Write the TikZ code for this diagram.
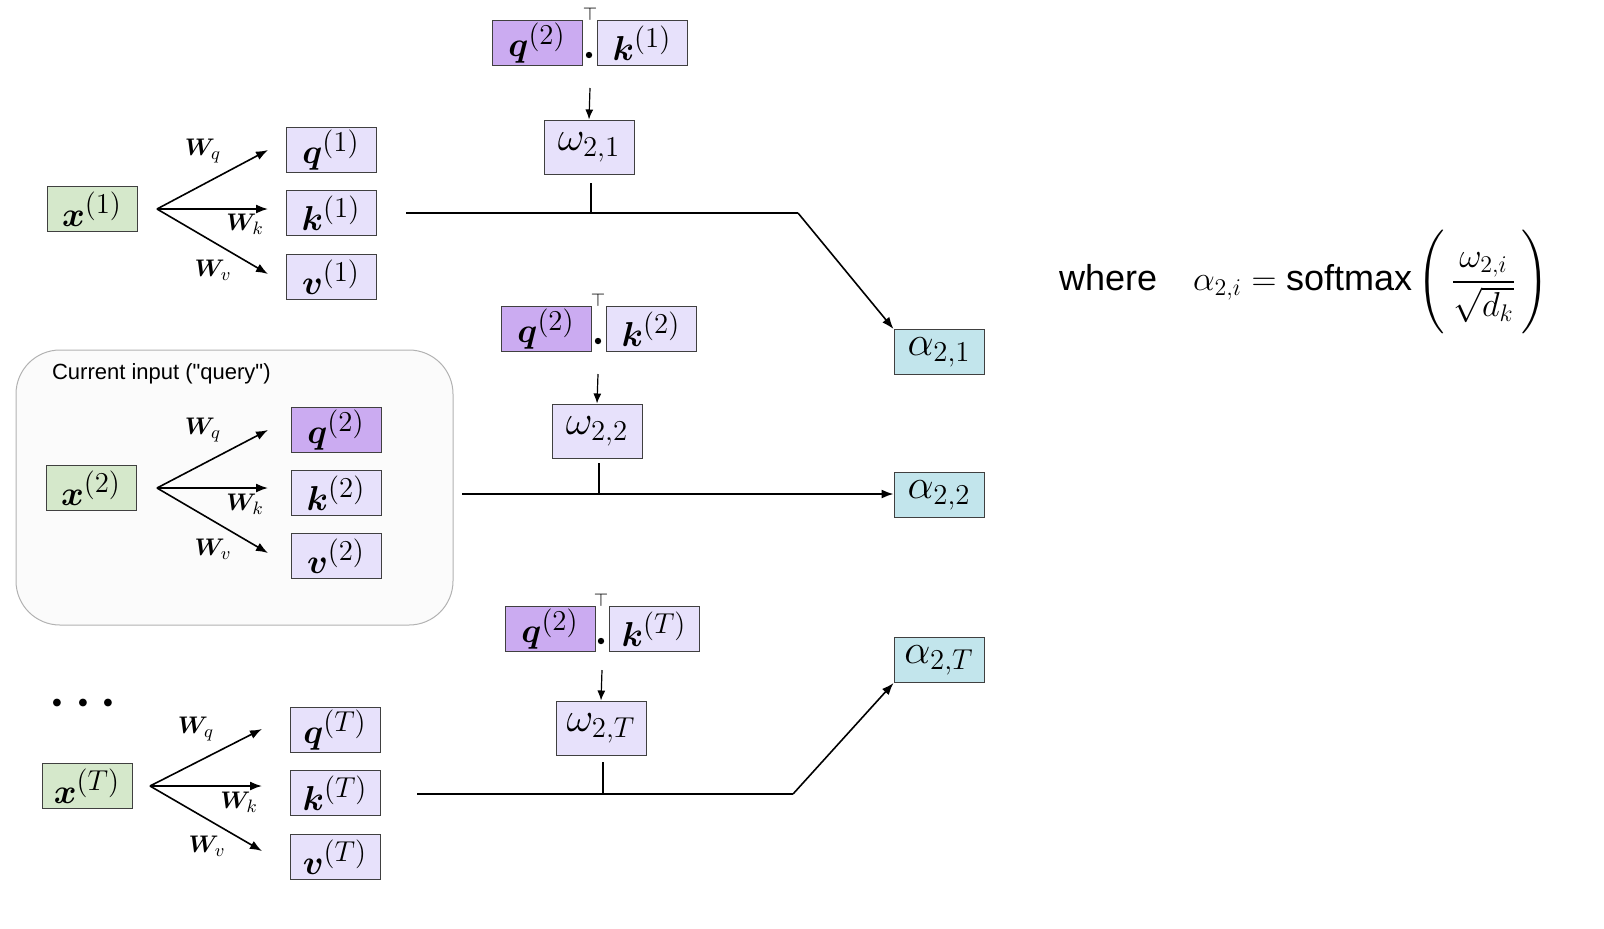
\documentclass[tikz,border=0pt]{standalone}
\usepackage{amsmath,bm}
\usepackage{fontspec}
\newfontfamily\sansf{Liberation Sans}
\usetikzlibrary{arrows.meta}
\definecolor{lav}{HTML}{E7E1FB}
\definecolor{dpur}{HTML}{CBABF1}
\definecolor{grn}{HTML}{D5E8CB}
\definecolor{cyn}{HTML}{C2E5EC}
\begin{document}
\begin{tikzpicture}[x=0.5pt,y=-0.5pt,
  bx/.style={draw=black!75,line width=0.5pt,minimum width=45pt,minimum height=22.5pt,inner sep=0pt,font=\fontsize{19}{21}\selectfont},
  v/.style={bx,fill=lav},
  qd/.style={bx,fill=dpur},
  xin/.style={bx,fill=grn},
  al/.style={bx,fill=cyn,font=\fontsize{21}{23}\selectfont},
  om/.style={bx,fill=lav,minimum height=27pt,font=\fontsize{22}{24}\selectfont},
  ar/.style={-{Latex[length=6pt,width=4.5pt]},line width=0.8pt},
  ln/.style={line width=0.8pt},
  wl/.style={font=\fontsize{13}{15}\selectfont},
  tt/.style={font=\sansf\fontsize{9}{9}\selectfont,inner sep=0pt}]
\useasboundingbox (0,0) rectangle (1604,928);
% group box
\draw[draw=black!30,fill=black!1.5,rounded corners=22pt,line width=0.5pt] (16,350) rectangle (453,625);
\node[anchor=west,font=\sansf\fontsize{11}{13}\selectfont] (cur) at (45,374) {Current input ("query")};
% Row 1
\node[xin] (x1) at (92,209) {$\bm{x}^{(1)}$};
\node[v] (q1) at (331,150) {$\bm{q}^{(1)}$};
\node[v] (k1) at (331,213) {$\bm{k}^{(1)}$};
\node[v] (v1) at (331,277) {$\bm{v}^{(1)}$};
\coordinate (s1) at (157,209);
\coordinate (e1q) at (268,150); \coordinate (e1k) at (268,209); \coordinate (e1v) at (268,274);
\draw[ar] (s1) -- (e1q); \draw[ar] (s1) -- (e1k); \draw[ar] (s1) -- (e1v);
\node[wl] at (203,151) {$\bm{W}_{q}$};
\node[wl] at (245,224) {$\bm{W}_{k}$};
\node[wl] at (213,270) {$\bm{W}_{v}$};
% Row 2
\node[xin] (x2) at (91,488) {$\bm{x}^{(2)}$};
\node[qd] (q2) at (336,430) {$\bm{q}^{(2)}$};
\node[v] (k2) at (336,493) {$\bm{k}^{(2)}$};
\node[v] (v2) at (336,556) {$\bm{v}^{(2)}$};
\coordinate (s2) at (157,488);
\coordinate (e2q) at (268,430); \coordinate (e2k) at (268,488); \coordinate (e2v) at (268,553);
\draw[ar] (s2) -- (e2q); \draw[ar] (s2) -- (e2k); \draw[ar] (s2) -- (e2v);
\node[wl] at (203,430) {$\bm{W}_{q}$};
\node[wl] at (245,504) {$\bm{W}_{k}$};
\node[wl] at (213,549) {$\bm{W}_{v}$};
% Row T
\node[font=\fontsize{26}{26}\selectfont] (dots) at (88,704) {$\bm{\cdots}$};
\node[xin] (xT) at (87,786) {$\bm{x}^{(T)}$};
\node[v] (qT) at (335,730) {$\bm{q}^{(T)}$};
\node[v] (kT) at (335,793) {$\bm{k}^{(T)}$};
\node[v] (vT) at (335,857) {$\bm{v}^{(T)}$};
\coordinate (sT) at (150,786);
\coordinate (eTq) at (262,729); \coordinate (eTk) at (262,786); \coordinate (eTv) at (262,851);
\draw[ar] (sT) -- (eTq); \draw[ar] (sT) -- (eTk); \draw[ar] (sT) -- (eTv);
\node[wl] at (196,729) {$\bm{W}_{q}$};
\node[wl] at (239,802) {$\bm{W}_{k}$};
\node[wl] at (207,846) {$\bm{W}_{v}$};
% ---------- dot products ----------
\node[qd] (pq1) at (537,43) {$\bm{q}^{(2)}$};
\node[v] (pk1) at (642,43) {$\bm{k}^{(1)}$};
\node[tt] (t1) at (590,14) {$\top$};
\fill (589,55) circle (1.6pt);
\node[om] (w1) at (589,147) {$\omega_{2,1}$};
\coordinate (a1s) at (590,88);
\draw[-{Latex[length=5pt,width=4pt]},line width=0.6pt] (a1s) -- (w1.north);

\node[qd] (pq2) at (546,329) {$\bm{q}^{(2)}$};
\node[v] (pk2) at (651,329) {$\bm{k}^{(2)}$};
\node[tt] (t2) at (598,300) {$\top$};
\fill (598,341) circle (1.6pt);
\node[om] (w2) at (597,431) {$\omega_{2,2}$};
\coordinate (a2s) at (598,374);
\draw[-{Latex[length=5pt,width=4pt]},line width=0.6pt] (a2s) -- (w2.north);

\node[qd] (pqT) at (550,629) {$\bm{q}^{(2)}$};
\node[v] (pkT) at (654,629) {$\bm{k}^{(T)}$};
\node[tt] (t3) at (601,600) {$\top$};
\fill (601,641) circle (1.6pt);
\node[om] (wT) at (601,728) {$\omega_{2,T}$};
\coordinate (a3s) at (602,670);
\draw[-{Latex[length=5pt,width=4pt]},line width=0.6pt] (a3s) -- (wT.north);
% ---------- alphas ----------
\node[al] (al1) at (939,352) {$\alpha_{2,1}$};
\node[al] (al2) at (939,495) {$\alpha_{2,2}$};
\node[al] (alT) at (939,660) {$\alpha_{2,T}$};
% connectors
\coordinate (h1a) at (406,213); \coordinate (h1b) at (798,213); \coordinate (j1) at (591,213);
\draw[ln] (h1a) -- (h1b);
\draw[ln] (591,183) -- (j1);
\draw[ar] (h1b) -- (al1.north west);
\coordinate (h2a) at (462,494); \coordinate (j2) at (599,494);
\draw[ar] (h2a) -- (al2.west |- h2a);
\draw[ln] (599,463) -- (j2);
\coordinate (h3a) at (417,794); \coordinate (h3b) at (793,794); \coordinate (j3) at (603,794);
\draw[ln] (h3a) -- (h3b);
\draw[ln] (603,762) -- (j3);
\draw[ar] (h3b) -- (alT.south west);
% formula
\node[anchor=west,font=\fontsize{18}{20}\selectfont] (fm) at (1052,282)
 {\sansf where\quad $\displaystyle \alpha_{2,i} = \text{\sansf softmax}\left(\rule[-20pt]{0pt}{48pt}\,\dfrac{\omega_{2,i}}{\sqrt{d_k}}\,\right)$};
\end{tikzpicture}
\end{document}
